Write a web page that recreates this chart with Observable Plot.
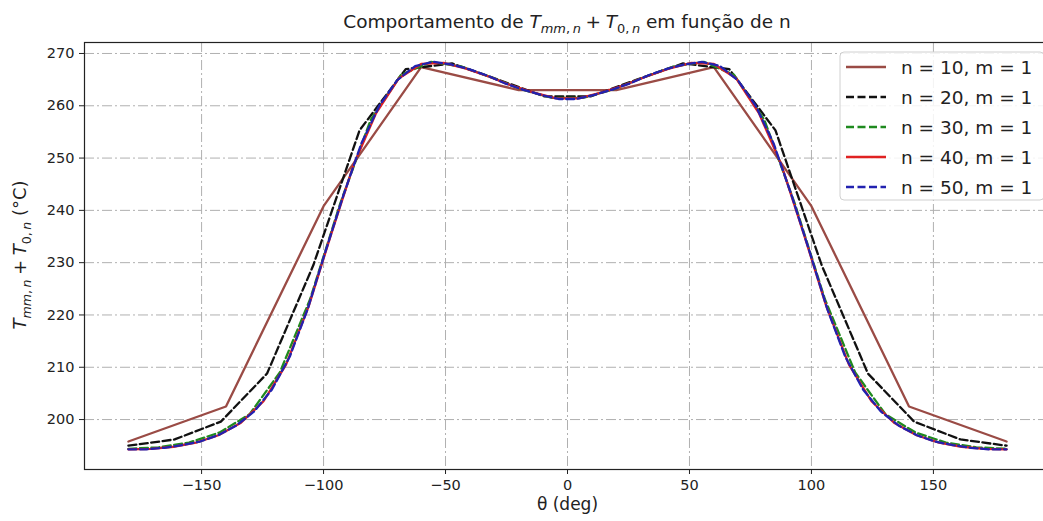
<!DOCTYPE html>
<html>
<head>
<meta charset="utf-8">
<script src="https://cdn.jsdelivr.net/npm/d3@7"></script>
<script src="https://cdn.jsdelivr.net/npm/@observablehq/plot@0.6"></script>
<style>
  html, body { margin: 0; padding: 0; background: #fff; overflow: hidden; }
  #chart { position: relative; width: 1043px; height: 521px; overflow: hidden; }
  #chart svg { max-width: none !important; }
</style>
</head>
<body>
<div id="chart"></div>
<script>
// Angular positions (deg) of each discretisation, n points from -180 to 180
const theta10 = [-180, -140, -100, -60, -20, 20, 60, 100, 140, 180];
const theta20 = [-180, -161.05, -142.11, -123.16, -104.21, -85.26, -66.32, -47.37, -28.42, -9.47,
                 9.47, 28.42, 47.37, 66.32, 85.26, 104.21, 123.16, 142.11, 161.05, 180];
const theta30 = [-180, -167.59, -155.17, -142.76, -130.34, -117.93, -105.52, -93.10, -80.69, -68.28,
                 -55.86, -43.45, -31.03, -18.62, -6.21, 6.21, 18.62, 31.03, 43.45, 55.86,
                 68.28, 80.69, 93.10, 105.52, 117.93, 130.34, 142.76, 155.17, 167.59, 180];
const theta40 = [-180, -170.77, -161.54, -152.31, -143.08, -133.85, -124.62, -115.38, -106.15, -96.92,
                 -87.69, -78.46, -69.23, -60.00, -50.77, -41.54, -32.31, -23.08, -13.85, -4.62,
                 4.62, 13.85, 23.08, 32.31, 41.54, 50.77, 60.00, 69.23, 78.46, 87.69,
                 96.92, 106.15, 115.38, 124.62, 133.85, 143.08, 152.31, 161.54, 170.77, 180];
const theta50 = [-180, -172.65, -165.31, -157.96, -150.61, -143.27, -135.92, -128.57, -121.22, -113.88,
                 -106.53, -99.18, -91.84, -84.49, -77.14, -69.80, -62.45, -55.10, -47.76, -40.41,
                 -33.06, -25.71, -18.37, -11.02, -3.67, 3.67, 11.02, 18.37, 25.71, 33.06,
                 40.41, 47.76, 55.10, 62.45, 69.80, 77.14, 84.49, 91.84, 99.18, 106.53,
                 113.88, 121.22, 128.57, 135.92, 143.27, 150.61, 157.96, 165.31, 172.65, 180];

// T_mm,n + T_0,n (°C) at those positions
const temp10 = [195.8, 202.5, 240.8, 267.4, 263.0, 263.0, 267.4, 240.8, 202.5, 195.8];
const temp20 = [195.0, 196.2, 199.6, 208.8, 229.5, 255.3, 267.0, 268.1, 265.0, 261.8,
                261.8, 265.0, 268.1, 267.0, 255.3, 229.5, 208.8, 199.6, 196.2, 195.0];
const temp30 = [194.4, 194.7, 195.6, 197.5, 201.0, 209.0, 223.0, 241.4, 257.3, 265.9,
                268.4, 267.5, 265.4, 263.1, 261.5, 261.5, 263.1, 265.4, 267.5, 268.4,
                265.9, 257.3, 241.4, 223.0, 209.0, 201.0, 197.5, 195.6, 194.7, 194.4];
const temp40 = [194.3, 194.4, 194.8, 195.6, 197.0, 199.4, 203.5, 210.5, 221.6, 235.4,
                248.7, 258.6, 265.2, 268.0, 268.2, 267.1, 265.6, 263.9, 262.5, 261.4,
                261.4, 262.5, 263.9, 265.6, 267.1, 268.2, 268.0, 265.2, 258.6, 248.7,
                235.4, 221.6, 210.5, 203.5, 199.4, 197.0, 195.6, 194.8, 194.4, 194.3];
const temp50 = [194.3, 194.3, 194.6, 195.1, 195.8, 197.0, 198.8, 201.5, 205.7, 212.0,
                221.1, 232.2, 242.9, 252.8, 260.0, 264.9, 267.6, 268.4, 267.9, 267.0,
                265.8, 264.3, 263.1, 262.1, 261.3, 261.3, 262.1, 263.1, 264.3, 265.8,
                267.0, 267.9, 268.4, 267.6, 264.9, 260.0, 252.8, 242.9, 232.2, 221.1,
                212.0, 205.7, 201.5, 198.8, 197.0, 195.8, 195.1, 194.6, 194.3, 194.3];

const seriesLabels = ["n = 10, m = 1", "n = 20, m = 1", "n = 30, m = 1", "n = 40, m = 1", "n = 50, m = 1"];
const xTicks = [-150, -100, -50, 0, 50, 100, 150];
const yTicks = [200, 210, 220, 230, 240, 250, 260, 270];

const series = [
  {label: seriesLabels[0], theta: theta10, temp: temp10, color: "#9a4b45", dash: null},
  {label: seriesLabels[1], theta: theta20, temp: temp20, color: "#111111", dash: "8,3.5"},
  {label: seriesLabels[2], theta: theta30, temp: temp30, color: "#1f8a1f", dash: "8,3.5"},
  {label: seriesLabels[3], theta: theta40, temp: temp40, color: "#e02222", dash: null},
  {label: seriesLabels[4], theta: theta50, temp: temp50, color: "#2222b0", dash: "8,3.5"}
];

const toRows = s => s.theta.map((t, i) => ({theta: t, temp: s.temp[i]}));
const fmtMinus = d => d < 0 ? "\u2212" + Math.abs(d) : String(d);
const gridStyle = {stroke: "#b0b0b0", strokeOpacity: 1, strokeWidth: 1, strokeDasharray: "10,3,2,3"};

const plot = Plot.plot({
  width: 1050,
  height: 521,
  marginTop: 42,
  marginBottom: 52,
  marginLeft: 84,
  marginRight: 0,
  style: {fontFamily: "'DejaVu Sans', sans-serif", fontSize: "14.5px", color: "#222", background: "#fff"},
  x: {domain: [-198, 198]},
  y: {domain: [190.45, 272.1]},
  marks: [
    Plot.gridX(xTicks, gridStyle),
    Plot.gridY(yTicks, gridStyle),
    Plot.axisX(xTicks, {tickSize: 5, tickPadding: 5, tickFormat: fmtMinus, label: null, stroke: "#222"}),
    Plot.axisY(yTicks, {tickSize: 5, tickPadding: 5, label: null, stroke: "#222"}),
    ...series.map(s => Plot.line(toRows(s), {
      x: "theta", y: "temp", stroke: s.color, strokeWidth: 2.3,
      strokeDasharray: s.dash ?? undefined
    })),
    Plot.frame({stroke: "#222", strokeWidth: 1.2}),
    Plot.text(["\u03b8 (deg)"], {frameAnchor: "bottom", dy: 40, text: d => d, fontSize: 17, fill: "#222"})
  ]
});

plot.style.maxWidth = "none";
plot.style.width = "1050px";
document.getElementById("chart").appendChild(plot);
const svg = d3.select(plot);

// Text with italic symbols and subscripts, like mathtext
function richText(g, x, y, parts, size, transform) {
  const t = g.append("text")
    .attr("x", x).attr("y", y)
    .attr("text-anchor", "middle")
    .attr("font-family", "'DejaVu Sans', sans-serif")
    .attr("font-size", size)
    .attr("fill", "#222");
  if (transform) t.attr("transform", transform);
  let shift = 0;
  for (const p of parts) {
    const target = p.sub ? size * 0.28 : 0;
    const ts = t.append("tspan").text(p.t).attr("dy", target - shift);
    shift = target;
    if (p.sub) ts.attr("font-size", size * 0.7);
    if (p.i) ts.attr("font-style", "italic");
  }
  return t;
}

const mathParts = [
  {t: "T", i: true}, {t: "mm", i: true, sub: true}, {t: ",\u2009", sub: true}, {t: "n", i: true, sub: true},
  {t: "\u2005+\u2005"},
  {t: "T", i: true}, {t: "0,\u2009", sub: true}, {t: "n", i: true, sub: true}
];

// Title
richText(svg, 567, 28, [{t: "Comportamento de "}, ...mathParts, {t: " em função de n"}], 18.5);

// Y axis label
richText(svg, 0, 0, [...mathParts, {t: " (°C)"}], 18, "translate(26,255) rotate(-90)");

// Legend
const leg = svg.append("g").attr("text-anchor", "start");
leg.append("rect")
  .attr("x", 840).attr("y", 52).attr("width", 204).attr("height", 148).attr("rx", 4)
  .attr("fill", "#fff").attr("fill-opacity", 0.85)
  .attr("stroke", "#d0d0d0").attr("stroke-width", 1);
series.forEach((s, i) => {
  const y = 67 + i * 30;
  leg.append("line")
    .attr("x1", 846).attr("x2", 886).attr("y1", y).attr("y2", y)
    .attr("stroke", s.color).attr("stroke-width", 2.6)
    .attr("stroke-dasharray", s.dash ?? null);
  leg.append("text")
    .attr("x", 901).attr("y", y).attr("dy", "0.36em")
    .attr("text-anchor", "start")
    .attr("font-family", "'DejaVu Sans', sans-serif")
    .attr("font-size", 18.5).attr("fill", "#222")
    .text(s.label);
});
</script>
</body>
</html>
